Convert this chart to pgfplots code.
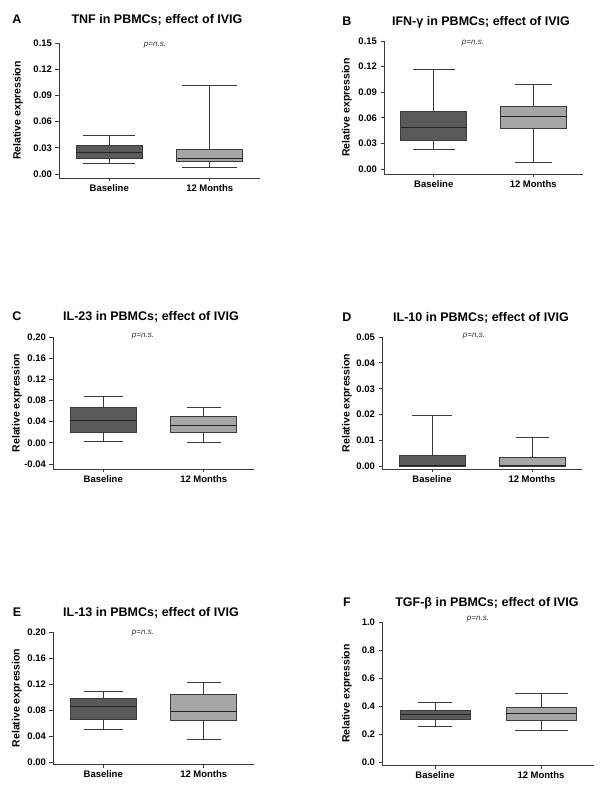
\documentclass[border=0pt]{standalone}
\usepackage{fontspec}
\setmainfont{Liberation Sans}
\usepackage{pgfplots}
\pgfplotsset{compat=1.18}
\usepgfplotslibrary{statistics}

\definecolor{boxdark}{HTML}{5A5A5A}
\definecolor{boxlight}{HTML}{A6A6A6}
\definecolor{linegray}{HTML}{3A3A3A}

\newcommand{\titlefont}{\fontsize{12.5bp}{14bp}\selectfont\bfseries}
\newcommand{\labfont}{\fontsize{10.5bp}{12bp}\selectfont\bfseries}
\newcommand{\tickfont}{\fontsize{9.5bp}{11bp}\selectfont\bfseries}
\newcommand{\pnsfont}{\fontsize{8bp}{10bp}\selectfont\itshape}

\pgfplotsset{
    panel/.style={
        scale only axis,
        anchor=south west,
        clip=false,
        axis x line=bottom,
        axis y line=left,
        axis line style={draw=linegray, line width=0.9bp, -},
        tick style={draw=linegray, line width=0.9bp},
        tick align=outside,
        major tick length=3.5bp,
        xmin=0.5, xmax=2.5,
        xtick={1,2},
        xticklabels={Baseline, 12 Months},
        x tick label style={font=\tickfont},
        y tick label style={font=\tickfont},
        ylabel={Relative expression},
        /pgf/number format/assume math mode=true,
        /pgf/number format/fixed,
        /pgf/number format/fixed zerofill,
        /pgf/number format/precision=2,
        scaled y ticks=false,
        boxplot/draw direction=y,
        boxplot/box extend=0.66,
        boxplot/every median/.style={draw=black!85, line width=0.9bp},
        boxplot/every whisker/.style={draw=linegray, line width=0.9bp},
    },
    ylab/.style={
        every axis y label/.style={
            at={(axis description cs:0,0.5)},
            anchor=center,
            xshift=-#1,
            rotate=90,
            font=\labfont,
        },
    },
    darkbox/.style={boxplot/every box/.style={draw=linegray, fill=boxdark, line width=0.9bp}},
    lightbox/.style={boxplot/every box/.style={draw=linegray, fill=boxlight, line width=0.9bp}},
}

\begin{document}
\begin{tikzpicture}
    \path[use as bounding box] (0bp,0bp) rectangle (600bp,793bp);

    % A: TNF
    \begin{axis}[panel, ylab=41bp,
        at={(59bp,615bp)}, width=201bp, height=135bp,
        ymin=-0.0046, ymax=0.15,
        ytick={0,0.03,0.06,0.09,0.12,0.15},
    ]
    \addplot[darkbox, boxplot prepared={draw position=1,
        lower whisker=0.0126, lower quartile=0.0175, median=0.0244,
        upper quartile=0.0324, upper whisker=0.0439, whisker extend=0.52}]
        coordinates {};
    \addplot[lightbox, boxplot prepared={draw position=2,
        lower whisker=0.0077, lower quartile=0.0141, median=0.018,
        upper quartile=0.0283, upper whisker=0.101, whisker extend=0.55}]
        coordinates {};
    \end{axis}

    % B: IFN-gamma
    \begin{axis}[panel, ylab=37bp,
        at={(384bp,619bp)}, width=199bp, height=133bp,
        ymin=-0.0059, ymax=0.15,
        ytick={0,0.03,0.06,0.09,0.12,0.15},
    ]
    \addplot[darkbox, boxplot prepared={draw position=1,
        lower whisker=0.0231, lower quartile=0.034, median=0.0492,
        upper quartile=0.0672, upper whisker=0.117, whisker extend=0.42}]
        coordinates {};
    \addplot[lightbox, boxplot prepared={draw position=2,
        lower whisker=0.0078, lower quartile=0.0477, median=0.0617,
        upper quartile=0.0738, upper whisker=0.0993, whisker extend=0.37}]
        coordinates {};
    \end{axis}

    % C: IL-23
    \begin{axis}[panel, ylab=36bp,
        at={(53bp,324bp)}, width=201bp, height=132bp,
        ymin=-0.0495, ymax=0.20,
        ytick={-0.04,0,0.04,0.08,0.12,0.16,0.20},
    ]
    \addplot[darkbox, boxplot prepared={draw position=1,
        lower whisker=0.0032, lower quartile=0.0196, median=0.0422,
        upper quartile=0.0668, upper whisker=0.088, whisker extend=0.39}]
        coordinates {};
    \addplot[lightbox, boxplot prepared={draw position=2,
        lower whisker=0.0, lower quartile=0.0196, median=0.0328,
        upper quartile=0.049, upper whisker=0.066, whisker extend=0.34}]
        coordinates {};
    \end{axis}

    % D: IL-10
    \begin{axis}[panel, ylab=35bp,
        at={(382bp,324bp)}, width=200bp, height=132bp,
        ymin=-0.001, ymax=0.05,
        ytick={0,0.01,0.02,0.03,0.04,0.05},
    ]
    \addplot[darkbox, boxplot prepared={draw position=1,
        lower whisker=0, lower quartile=0, median=0.0002,
        upper quartile=0.0041, upper whisker=0.0198, whisker extend=0.4}]
        coordinates {};
    \addplot[lightbox, boxplot prepared={draw position=2,
        lower whisker=0, lower quartile=0, median=0.0002,
        upper quartile=0.0036, upper whisker=0.0112, whisker extend=0.33}]
        coordinates {};
    \end{axis}

    % E: IL-13
    \begin{axis}[panel, ylab=36bp,
        at={(53bp,29bp)}, width=201bp, height=132bp,
        ymin=-0.0031, ymax=0.20,
        ytick={0,0.04,0.08,0.12,0.16,0.20},
    ]
    \addplot[darkbox, boxplot prepared={draw position=1,
        lower whisker=0.0498, lower quartile=0.0662, median=0.0857,
        upper quartile=0.0985, upper whisker=0.109, whisker extend=0.39}]
        coordinates {};
    \addplot[lightbox, boxplot prepared={draw position=2,
        lower whisker=0.0345, lower quartile=0.0637, median=0.0775,
        upper quartile=0.104, upper whisker=0.122, whisker extend=0.34}]
        coordinates {};
    \end{axis}

    % F: TGF-beta
    \begin{axis}[panel, ylab=35bp,
        at={(382bp,28bp)}, width=212bp, height=143bp,
        ymin=-0.019, ymax=1.0,
        ytick={0,0.2,0.4,0.6,0.8,1.0},
        /pgf/number format/precision=1,
    ]
    \addplot[darkbox, boxplot prepared={draw position=1,
        lower whisker=0.256, lower quartile=0.306, median=0.343,
        upper quartile=0.37, upper whisker=0.429, whisker extend=0.33}]
        coordinates {};
    \addplot[lightbox, boxplot prepared={draw position=2,
        lower whisker=0.225, lower quartile=0.299, median=0.346,
        upper quartile=0.393, upper whisker=0.488, whisker extend=0.5}]
        coordinates {};
    \end{axis}

    % panel letters and titles
    \begin{scope}[x=1bp, y=1bp, every node/.style={anchor=base, font=\titlefont, inner sep=0pt}]
        \node at (17,769) {A};
        \node at (157,769) {TNF in PBMCs; effect of IVIG};
        \node at (347,767) {B};
        \node at (481,767) {IFN-γ in PBMCs; effect of IVIG};
        \node at (17,472) {C};
        \node at (151,472) {IL-23 in PBMCs; effect of IVIG};
        \node at (347,471) {D};
        \node at (481,471) {IL-10 in PBMCs; effect of IVIG};
        \node at (17,177) {E};
        \node at (151,177) {IL-13 in PBMCs; effect of IVIG};
        \node at (347,187) {F};
        \node at (487,187) {TGF-β in PBMCs; effect of IVIG};
    \end{scope}

    % p values
    \begin{scope}[x=1bp, y=1bp, every node/.style={anchor=base, font=\pnsfont, text=black!80, inner sep=0pt}]
        \node at (155,746) {p=n.s.};
        \node at (473,748) {p=n.s.};
        \node at (143,455) {p=n.s.};
        \node at (474,455) {p=n.s.};
        \node at (143,159) {p=n.s.};
        \node at (478,173) {p=n.s.};
    \end{scope}
\end{tikzpicture}
\end{document}
